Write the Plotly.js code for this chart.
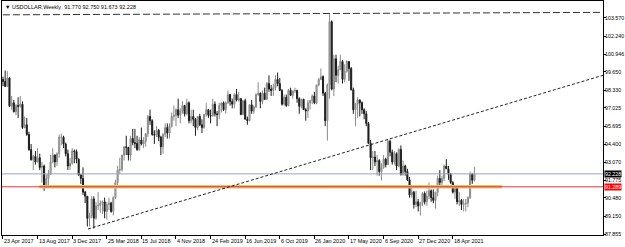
<!DOCTYPE html>
<html>
<head>
<meta charset="utf-8">
<script src="https://cdn.plot.ly/plotly-3.0.1.min.js"></script>
<style>
html,body{margin:0;padding:0;background:#ffffff;}
#chart{width:625px;height:247px;}
</style>
</head>
<body>
<div id="chart"></div>
<script>
// ---- Data (weekly bars, 23 Apr 2017 .. 27 Jun 2021) ----
const symbolTitle = '\u25BC USDOLLAR,Weekly  91.770 92.750 91.673 92.228';

const openP = [
 99.10,98.95,98.60,99.20,97.15,97.40,96.75,97.20,97.15,97.30,
 95.60,95.80,95.10,94.00,93.25,93.50,93.10,93.40,92.70,92.80,
 91.30,91.90,92.20,93.10,93.60,93.10,93.70,94.90,94.90,94.40,
 93.70,92.80,93.00,93.90,93.85,93.30,92.15,91.90,90.90,90.60,
 89.00,89.20,90.40,89.00,89.90,89.95,90.10,90.20,89.50,90.00,
 90.10,89.50,90.50,91.60,92.50,92.55,93.60,94.20,94.15,93.60,
 94.80,94.50,94.45,94.00,94.70,94.40,94.60,95.15,96.40,96.10,
 95.10,95.05,95.40,94.90,94.20,95.10,95.60,95.20,95.70,96.40,
 96.50,96.90,96.50,96.80,97.20,96.60,97.40,96.10,96.40,96.20,
 95.60,96.40,95.80,95.60,96.55,96.90,96.50,96.45,97.30,96.60,
 96.55,97.20,97.40,96.90,97.40,98.00,97.50,97.30,98.00,97.60,
 97.70,96.55,97.55,96.20,96.10,97.25,96.80,97.10,98.00,98.10,
 97.50,98.10,97.65,98.80,98.40,98.30,98.50,99.10,98.80,98.30,
 97.30,97.80,97.20,98.30,97.95,98.25,98.30,97.70,97.15,97.65,
 96.90,96.80,97.40,97.55,97.90,97.40,98.70,99.10,99.30,98.10,
 96.10,98.70,103.30,98.40,100.60,99.40,99.80,100.40,99.10,99.70,
 100.40,99.90,98.35,96.90,97.30,97.60,97.40,96.90,96.60,95.90,
 94.45,93.40,93.45,93.10,93.20,92.40,92.70,93.30,92.90,94.60,
 93.80,93.10,93.70,92.80,94.00,92.20,92.80,92.40,91.80,90.70,
 90.90,90.00,90.20,89.90,90.10,90.80,90.20,90.60,91.00,90.50,
 90.30,90.90,91.90,91.60,91.90,92.80,92.60,92.20,91.60,90.90,
 91.30,90.20,90.30,90.00,90.05,90.10,90.50,92.20,91.77
];
const highP = [
 99.30,99.75,99.70,99.25,97.90,97.60,97.30,97.80,97.90,97.50,
 96.40,96.30,95.30,94.40,93.60,93.90,94.10,93.70,93.10,92.90,
 92.20,92.50,93.60,94.10,93.65,93.80,95.10,95.15,95.00,94.50,
 94.00,93.40,94.10,94.00,94.00,93.35,92.20,92.70,91.00,90.60,
 89.40,90.60,90.60,90.20,90.90,90.30,90.30,90.50,90.20,90.50,
 90.20,90.60,91.80,92.80,93.40,93.60,94.20,95.00,94.20,95.00,
 95.50,95.50,95.00,94.90,95.60,94.90,95.20,96.50,96.90,96.20,
 95.40,95.70,95.50,95.00,95.20,95.90,95.90,95.90,96.70,97.20,
 97.00,97.70,97.00,97.50,97.25,97.70,97.50,96.90,96.90,96.30,
 96.40,96.60,96.20,96.60,97.40,96.95,96.90,97.70,97.50,96.80,
 97.40,97.40,97.50,97.50,98.30,98.05,97.70,98.10,98.40,98.20,
 97.75,97.60,97.70,96.40,97.30,97.60,97.20,98.10,98.90,98.15,
 98.30,98.50,98.90,99.40,98.70,98.80,99.40,99.60,99.20,98.40,
 98.00,98.00,98.40,98.50,98.30,98.50,98.35,97.80,97.70,97.70,
 97.00,97.60,97.60,98.00,98.20,98.70,99.20,99.90,99.40,98.20,
 98.80,103.85,103.40,100.90,100.90,100.10,100.90,100.50,100.20,100.50,
 100.40,100.00,98.50,97.40,97.80,97.65,97.50,97.00,96.80,96.00,
 94.70,93.90,93.90,93.60,93.30,93.00,93.60,93.40,94.75,94.70,
 94.00,93.90,93.80,94.10,94.30,93.20,92.90,92.60,92.00,91.20,
 91.00,91.00,90.40,90.20,90.90,90.95,91.00,91.60,91.10,91.10,
 90.90,92.10,92.50,92.10,92.90,93.30,92.80,92.30,91.70,91.40,
 91.40,90.90,90.40,90.40,90.40,90.60,92.40,92.30,92.75
];
const lowP = [
 98.60,98.55,98.55,97.10,96.90,96.70,96.50,96.30,97.05,95.50,
 95.55,95.00,93.90,93.20,92.50,92.90,93.05,92.50,91.60,91.00,
 91.25,91.40,92.15,93.00,92.70,92.80,93.40,94.30,94.10,93.50,
 92.50,92.50,92.90,93.00,93.00,92.10,91.50,90.70,90.10,88.40,
 88.40,89.00,88.25,88.90,89.60,89.40,89.30,89.00,88.90,89.60,
 89.40,89.20,90.40,91.40,92.20,92.40,93.20,93.60,93.20,93.20,
 94.30,94.10,93.90,93.90,94.30,94.10,94.20,94.90,95.80,95.00,
 94.40,94.90,94.60,93.60,93.70,94.90,94.80,94.80,95.60,96.10,
 95.70,96.30,95.90,96.60,96.40,96.50,95.90,95.90,95.70,95.00,
 95.40,95.70,95.20,95.50,96.40,96.30,95.90,96.40,96.40,95.70,
 96.20,96.70,96.80,96.60,97.30,97.20,97.00,97.00,97.50,97.50,
 96.50,96.50,96.20,95.80,96.05,96.60,96.60,97.00,97.90,97.00,
 97.30,97.60,97.60,98.20,97.90,97.90,98.30,98.60,98.30,97.20,
 97.20,97.10,97.15,97.90,97.70,98.10,97.40,96.60,97.00,96.90,
 96.10,96.30,96.90,97.30,97.30,97.30,98.60,99.05,97.90,95.70,
 94.65,97.70,98.30,97.90,98.90,98.80,99.80,98.80,98.90,99.60,
 99.00,98.30,96.60,95.70,96.30,96.40,96.60,96.20,95.70,94.40,
 92.50,92.50,92.80,92.10,92.10,91.75,92.60,92.70,92.90,93.50,
 92.90,92.90,92.50,92.70,92.10,92.10,92.10,91.70,90.50,90.50,
 89.70,89.80,89.50,89.20,89.90,90.00,89.90,90.40,90.20,90.10,
 89.70,90.60,91.40,91.30,91.70,92.60,91.80,91.50,90.80,90.40,
 90.00,89.90,89.60,89.50,89.50,89.80,90.40,91.50,91.673
];
const closeP = [
 98.95,98.60,99.20,97.15,97.40,96.75,97.20,97.15,97.30,95.60,
 95.80,95.10,94.00,93.25,93.50,93.10,93.40,92.70,92.80,91.30,
 91.90,92.20,93.10,93.60,93.10,93.70,94.90,94.90,94.40,93.70,
 92.80,93.00,93.90,93.85,93.30,92.15,91.90,90.90,90.60,89.00,
 89.20,90.40,89.00,89.90,89.95,90.10,90.20,89.50,90.00,90.10,
 89.50,90.50,91.60,92.50,92.55,93.60,94.20,94.15,93.60,94.80,
 94.50,94.45,94.00,94.70,94.40,94.60,95.15,96.40,96.10,95.10,
 95.05,95.40,94.90,94.20,95.10,95.60,95.20,95.70,96.40,96.50,
 96.90,96.50,96.80,97.20,96.60,97.40,96.10,96.40,96.20,95.60,
 96.40,95.80,95.60,96.55,96.90,96.50,96.45,97.30,96.60,96.55,
 97.20,97.40,96.90,97.40,98.00,97.50,97.30,98.00,97.60,97.70,
 96.55,97.55,96.20,96.10,97.25,96.80,97.10,98.00,98.10,97.50,
 98.10,97.65,98.80,98.40,98.30,98.50,99.10,98.80,98.30,97.30,
 97.80,97.20,98.30,97.95,98.25,98.30,97.70,97.15,97.65,96.90,
 96.80,97.40,97.55,97.90,97.40,98.70,99.10,99.30,98.10,96.10,
 98.70,103.30,98.40,100.60,99.40,99.80,100.40,99.10,99.70,100.40,
 99.90,98.35,96.90,97.30,97.60,97.40,96.90,96.60,95.90,94.45,
 93.40,93.45,93.10,93.20,92.40,92.70,93.30,92.90,94.60,93.80,
 93.10,93.70,92.80,94.00,92.20,92.80,92.40,91.80,90.70,90.90,
 90.00,90.20,89.90,90.10,90.80,90.20,90.60,91.00,90.50,90.30,
 90.90,91.90,91.60,91.90,92.80,92.60,92.20,91.60,90.90,91.30,
 90.20,90.30,90.00,90.05,90.10,90.50,92.20,91.77,92.228
];

const dateLabels = ['23 Apr 2017','13 Aug 2017','3 Dec 2017','25 Mar 2018','15 Jul 2018',
  '4 Nov 2018','24 Feb 2019','16 Jun 2019','6 Oct 2019','26 Jan 2020','17 May 2020',
  '6 Sep 2020','27 Dec 2020','18 Apr 2021'];
const barsPerLabel = 16;
const priceTicks = [87.855, 89.150, 90.480, 91.775, 93.070, 94.400, 95.695, 97.025,
  98.330, 99.650, 100.946, 102.240, 103.570];

const bidPrice = 92.228;
const levelPrice = 91.289;
const levelZoneBars = [16.8, 230.8];
const trendBars = [39.3, 280];
const trendPrices = [88.22, 99.52];
const topLineBars = [0, 280];
const topLinePrices = [103.80, 103.98];

// ---- Chart ----
const xIdx = closeP.map((_, i) => i);
const tickIdx = dateLabels.map((_, k) => k * barsPerLabel);
const FONT = 'Liberation Sans, Arial, sans-serif';

const traces = [
  { type:'scatter', mode:'lines', x:levelZoneBars, y:[levelPrice, levelPrice],
    line:{color:'rgb(226,196,120)', width:3.5}, hoverinfo:'skip' },
  { type:'scatter', mode:'lines', x:[-5, 300], y:[levelPrice, levelPrice],
    line:{color:'#f01818', width:0.9}, hoverinfo:'skip' },
  { type:'scatter', mode:'lines', x:[-5, 300], y:[bidPrice, bidPrice],
    line:{color:'#9aa5b8', width:1}, hoverinfo:'skip' },
  { type:'scatter', mode:'lines', x:trendBars, y:trendPrices,
    line:{color:'#222', width:1, dash:'3px,2px'}, hoverinfo:'skip' },
  { type:'scatter', mode:'lines', x:topLineBars, y:topLinePrices,
    line:{color:'#333', width:1, dash:'7px,3px'}, hoverinfo:'skip' },
  { type:'candlestick', x:xIdx, open:openP, high:highP, low:lowP, close:closeP,
    increasing:{line:{color:'#8a8a8a', width:1}, fillcolor:'#bcbcbc'},
    decreasing:{line:{color:'#1c1c1c', width:1}, fillcolor:'#1c1c1c'},
    whiskerwidth:0, hoverinfo:'skip' }
];

const annotations = dateLabels.map((t, k) => ({
  x: tickIdx[k], xref:'x', y:0, yref:'paper', yanchor:'top', xanchor:'left',
  yshift:-1, xshift:-1, text:t, showarrow:false,
  font:{family:FONT, size:5.5, color:'#000'}
}));
priceTicks.forEach(v => annotations.push({
  x:1, xref:'paper', y:v, yref:'y', xanchor:'left', yanchor:'middle',
  xshift:1, text:v.toFixed(3), showarrow:false, borderpad:0,
  font:{family:FONT, size:5.3, color:'#000'}
}));
annotations.push({
  x:0, xref:'paper', y:1, yref:'paper', xanchor:'left', yanchor:'top',
  xshift:1, yshift:-1, text:symbolTitle, showarrow:false,
  font:{family:FONT, size:5.5, color:'#000'}
});
annotations.push({
  x:1, xref:'paper', y:bidPrice, yref:'y', xanchor:'left', yanchor:'middle',
  xshift:1, text:bidPrice.toFixed(3), showarrow:false, bgcolor:'#000', borderpad:0,
  font:{family:FONT, size:5.3, color:'#fff'}
});
annotations.push({
  x:1, xref:'paper', y:levelPrice, yref:'y', xanchor:'left', yanchor:'middle',
  xshift:1, text:levelPrice.toFixed(3), showarrow:false, bgcolor:'#ff0000', borderpad:0,
  font:{family:FONT, size:5.3, color:'#fff'}
});

const layout = {
  width:625, height:247,
  margin:{l:2, r:22, t:1, b:12, pad:0},
  paper_bgcolor:'#ffffff', plot_bgcolor:'#ffffff',
  showlegend:false,
  xaxis:{
    range:[-0.46, 277.46], showgrid:false, zeroline:false,
    showline:true, mirror:true, linecolor:'#000', linewidth:1,
    ticks:'outside', ticklen:3, tickwidth:1, tickcolor:'#000',
    tickmode:'array', tickvals:tickIdx, showticklabels:false,
    rangeslider:{visible:false}, fixedrange:true
  },
  yaxis:{
    side:'right', range:[87.782, 104.806], showgrid:false, zeroline:false,
    showline:true, mirror:true, linecolor:'#000', linewidth:1,
    ticks:'outside', ticklen:2, tickwidth:1, tickcolor:'#000',
    tickmode:'array', tickvals:priceTicks, showticklabels:false, fixedrange:true
  },
  annotations: annotations
};

Plotly.newPlot('chart', traces, layout, {staticPlot:true, displayModeBar:false});
</script>
</body>
</html>
